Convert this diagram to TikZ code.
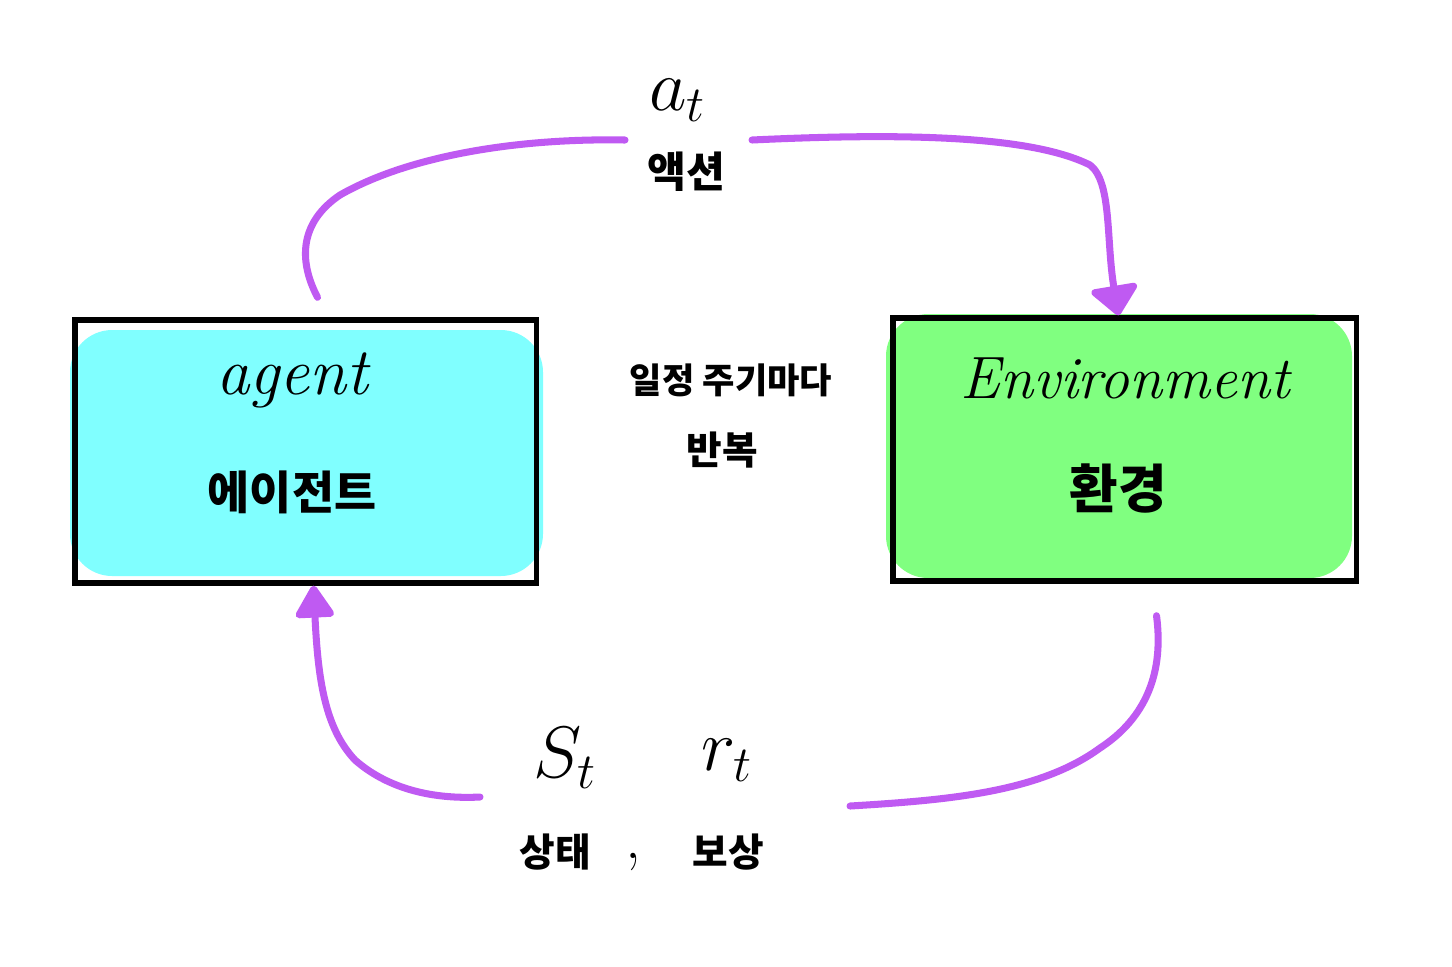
\documentclass[tikz,border=0pt]{standalone}
\usepackage{fontspec}
\newfontfamily\kr{Noto Sans CJK KR}
\usetikzlibrary{arrows.meta,calc}
\definecolor{loopc}{HTML}{BF5AF2}
\definecolor{agentfill}{HTML}{80FFFF}
\definecolor{envfill}{HTML}{80FF80}

\begin{document}
\begin{tikzpicture}[x=0.01cm,y=-0.01cm]
  \useasboundingbox (0,0) rectangle (1452,966);

  % Agent box
  \fill[agentfill,rounded corners=12pt] (70,330) rectangle (543,576);
  \node[draw,line width=1.5pt,minimum width=4.61cm,minimum height=2.63cm] (agent) at (305.5,451.5) {};
  \node[font=\fontsize{19}{22}\selectfont\itshape] (agentEn) at (292,380) {agent};
  \node[font=\fontsize{13}{16}\selectfont\kr\bfseries] (agentKr) at (292,492) {에이전트};

  % Environment box
  \fill[envfill,rounded corners=12pt] (886,314) rectangle (1352,578);
  \node[draw,line width=1.5pt,minimum width=4.63cm,minimum height=2.63cm] (env) at (1124.5,449.5) {};
  \node[font=\fontsize{17}{20}\selectfont\itshape] (envEn) at (1125,378) {Environment};
  \node[font=\fontsize{15}{18}\selectfont\kr\bfseries] (envKr) at (1118,488) {환경};

  % Center note
  \node[font=\fontsize{10}{12}\selectfont\kr\bfseries] (note1) at (731,380) {일정 주기마다};
  \node[font=\fontsize{11}{13}\selectfont\kr\bfseries] (note2) at (722,450) {반복};

  % Action (top)
  \node[font=\fontsize{22}{26}\selectfont] (act) at (678,100) {$a_t$};
  \node[font=\fontsize{12}{14}\selectfont\kr\bfseries] (actKr) at (686,172) {액션};
  \coordinate (actL) at (625,140);
  \coordinate (actR) at (752,140);
  \draw[loopc,line width=2pt,line cap=round] ($(agent.north)+(12,-20)$)
    .. controls (298,260) and (300,222) .. (340,195)
    .. controls (410,155) and (520,138) .. (actL);
  \draw[loopc,line width=2pt,line cap=round,-{Triangle[width=15pt,length=9pt,round]}] (actR)
    .. controls (900,133) and (1030,135) .. (1090,165)
    .. controls (1112,182) and (1106,240) .. ($(env.north)+(-6,0)$);

  % State, reward (bottom)
  \node[font=\fontsize{22}{26}\selectfont] (st) at (565,758) {$S_t$};
  \node[font=\fontsize{22}{26}\selectfont] (rt) at (727,760) {$r_t$};
  \node[font=\fontsize{11}{13}\selectfont\kr\bfseries] (stKr) at (555,852) {상태};
  \node[font=\fontsize{18}{20}\selectfont] (comma) at (633,862) {,};
  \node[font=\fontsize{11}{13}\selectfont\kr\bfseries] (rtKr) at (728,852) {보상};
  \coordinate (obsR) at (850,806);
  \coordinate (obsL) at (480,797);
  \draw[loopc,line width=2pt,line cap=round] ($(env.south)+(32,32)$)
    .. controls (1165,680) and (1140,722) .. (1100,748)
    .. controls (1040,792) and (950,800) .. (obsR);
  \draw[loopc,line width=2pt,line cap=round,-{Triangle[width=12pt,length=10pt,round]}] (obsL)
    .. controls (420,800) and (380,782) .. (355,760)
    .. controls (325,728) and (318,680) .. ($(agent.south)+(8,0)$);
\end{tikzpicture}
\end{document}
